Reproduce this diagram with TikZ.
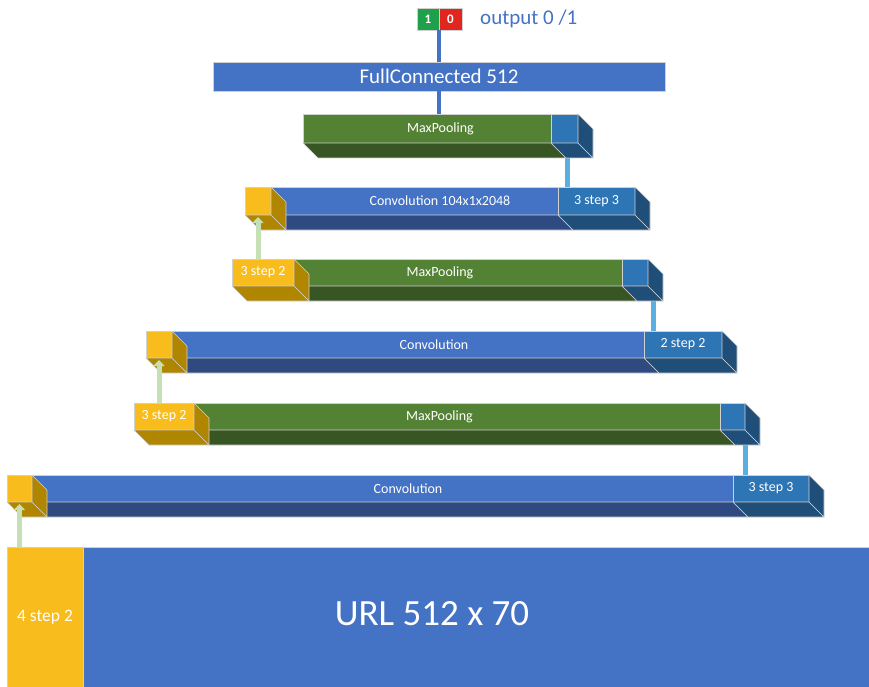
\documentclass[tikz,border=0pt]{standalone}
\usepackage{fontspec}
\setmainfont{Carlito}
\usetikzlibrary{calc,arrows.meta}

\definecolor{barblue}{HTML}{4472C4}
\definecolor{barblueD}{HTML}{2F4A80}
\definecolor{stepblue}{HTML}{2E75B6}
\definecolor{stepblueD}{HTML}{1F4E79}
\definecolor{poolgreen}{HTML}{548235}
\definecolor{poolgreenD}{HTML}{375623}
\definecolor{kyellow}{HTML}{F8BC1C}
\definecolor{kyellowD}{HTML}{B08500}
\definecolor{linkblue}{HTML}{5AAEE0}
\definecolor{linkgreen}{HTML}{C5E0B4}
\definecolor{edgegrey}{HTML}{D0D0D0}
\definecolor{outgreen}{HTML}{1FA04A}
\definecolor{outred}{HTML}{E0261E}

% front face of a block: name, x1, y1, x2, y2, style, text
\newcommand\facebox[7]{%
  \node[face,#6,minimum width={#4-#2},minimum height={#5-#3}] (#1) at (#2,#3) {#7};}
% lower (bottom) face of a block
\newcommand\lowface[2]{%
  \filldraw[side,fill=#2] (#1.south west) -- (#1.south east) -- ++(15,15)
    -- ($(#1.south west)+(15,15)$) -- cycle;}
% right-hand face of a block
\newcommand\rightface[2]{%
  \filldraw[side,fill=#2] (#1.north east) -- ++(15,15)
    -- ($(#1.south east)+(15,15)$) -- (#1.south east) -- cycle;}

\begin{document}
\begin{tikzpicture}[x=1pt,y=-1pt,
  face/.style={draw=edgegrey,line width=0.6pt,inner sep=0pt,outer sep=0pt,
    anchor=north west,text=white,font=\fontsize{14}{16}\selectfont},
  side/.style={draw=edgegrey,line width=0.6pt,line join=round},
  lbl/.style={text=white,font=\fontsize{14}{16}\selectfont,inner sep=0pt},
  bluelink/.style={draw=linkblue,line width=5pt},
  greenlink/.style={draw=linkgreen,line width=5pt,
    -{Triangle[width=11pt,length=6pt]}},
  toplink/.style={draw=barblue,line width=4pt}]

\useasboundingbox (0,0) rectangle (869,687);

% ---- output and fully connected layer
\facebox{one}{417}{8}{439}{30}{fill=outgreen,font=\bfseries\fontsize{13}{14}\selectfont}{1}
\facebox{zero}{439}{8}{462}{30}{fill=outred,font=\bfseries\fontsize{13}{14}\selectfont}{0}
\node[anchor=west,inner sep=0pt,text=barblue,font=\fontsize{21}{24}\selectfont]
  (outtxt) at (480,19) {output 0 /1};
\facebox{fc}{213}{62}{665}{91}{fill=barblue,font=\fontsize{21}{24}\selectfont}{FullConnected 512}

% ---- block A: max pooling
\facebox{mpA}{303}{114}{551}{143}{fill=poolgreen}{}
\facebox{mpAc}{551}{114}{578}{143}{fill=stepblue}{}

% ---- block B: convolution 104x1x2048
\facebox{cvB}{271}{187}{558}{215}{fill=barblue}{}
\facebox{cvBs}{558}{187}{635}{215}{fill=stepblue}{3 step 3}
\facebox{cvBy}{245}{187}{271}{215}{fill=kyellow}{}

% ---- block C: max pooling
\facebox{mpC}{294}{259}{622}{286}{fill=poolgreen}{}
\facebox{mpCc}{622}{259}{648}{286}{fill=stepblue}{}
\facebox{mpCy}{232}{259}{294}{286}{fill=kyellow}{3 step 2}

% ---- block D: convolution
\facebox{cvD}{172}{331}{644}{358}{fill=barblue}{}
\facebox{cvDs}{644}{331}{722}{358}{fill=stepblue}{2 step 2}
\facebox{cvDy}{146}{331}{172}{358}{fill=kyellow}{}

% ---- block E: max pooling
\facebox{mpE}{194}{403}{720}{430}{fill=poolgreen}{}
\facebox{mpEc}{720}{403}{745}{430}{fill=stepblue}{}
\facebox{mpEy}{134}{403}{194}{430}{fill=kyellow}{3 step 2}

% ---- block F: convolution
\facebox{cvF}{32}{475}{733}{502}{fill=barblue}{}
\facebox{cvFs}{733}{475}{809}{502}{fill=stepblue}{3 step 3}
\facebox{cvFy}{7}{475}{32}{502}{fill=kyellow}{}

% ---- input
\facebox{url}{83}{547}{869}{687}{fill=barblue}{}
\facebox{urly}{7}{547}{83}{687}{fill=kyellow,font=\fontsize{17.5}{20}\selectfont}{4 step 2}

% links between the layers, drawn below the depth faces
\path (cvBs.north west) ++(9,0) coordinate (lkB);
\path (cvDs.north west) ++(9,0) coordinate (lkD);
\path (cvFs.north west) ++(12,0) coordinate (lkF);
\draw[bluelink] (lkB) -- (lkB |- mpAc.south);
\draw[bluelink] (lkD) -- (lkD |- mpCc.south);
\draw[bluelink] (lkF) -- (lkF |- mpEc.south);

% depth faces
\lowface{mpA}{poolgreenD}\lowface{mpAc}{stepblueD}\rightface{mpAc}{stepblueD}
\lowface{cvB}{barblueD}\lowface{cvBs}{stepblueD}\rightface{cvBs}{stepblueD}
\lowface{cvBy}{kyellowD}\rightface{cvBy}{kyellowD}
\lowface{mpC}{poolgreenD}\lowface{mpCc}{stepblueD}\rightface{mpCc}{stepblueD}
\lowface{mpCy}{kyellowD}\rightface{mpCy}{kyellowD}
\lowface{cvD}{barblueD}\lowface{cvDs}{stepblueD}\rightface{cvDs}{stepblueD}
\lowface{cvDy}{kyellowD}\rightface{cvDy}{kyellowD}
\lowface{mpE}{poolgreenD}\lowface{mpEc}{stepblueD}\rightface{mpEc}{stepblueD}
\lowface{mpEy}{kyellowD}\rightface{mpEy}{kyellowD}
\lowface{cvF}{barblueD}\lowface{cvFs}{stepblueD}\rightface{cvFs}{stepblueD}
\lowface{cvFy}{kyellowD}\rightface{cvFy}{kyellowD}

% layer names, centred on each whole block
\node[lbl] (tA) at ($(mpA.west)!0.5!(mpAc.east)$) {MaxPooling};
\node[lbl] (tB) at ($(cvBy.west)!0.5!(cvBs.east)$) {Convolution 104x1x2048};
\node[lbl] (tC) at ($(mpCy.west)!0.5!(mpCc.east)$) {MaxPooling};
\node[lbl] (tD) at ($(cvDy.west)!0.5!(cvDs.east)$) {Convolution};
\node[lbl] (tE) at ($(mpEy.west)!0.5!(mpEc.east)$) {MaxPooling};
\node[lbl] (tF) at ($(cvFy.west)!0.5!(cvFs.east)$) {Convolution};
\node[lbl,font=\fontsize{37}{40}\selectfont] (tU) at (432,614) {URL 512 x 70};

% kernel links
\draw[greenlink] (cvBy.south |- mpCy.north) -- ([yshift=-2pt]cvBy.south);
\draw[greenlink] (cvDy.south |- mpEy.north) -- ([yshift=-2pt]cvDy.south);
\draw[greenlink] (cvFy.south |- urly.north) -- ([yshift=-2pt]cvFy.south);

% top links
\draw[toplink] (fc.north) -- (fc.north |- one.south);
\draw[toplink] (fc.south) -- (fc.south |- mpA.north);
\end{tikzpicture}
\end{document}
